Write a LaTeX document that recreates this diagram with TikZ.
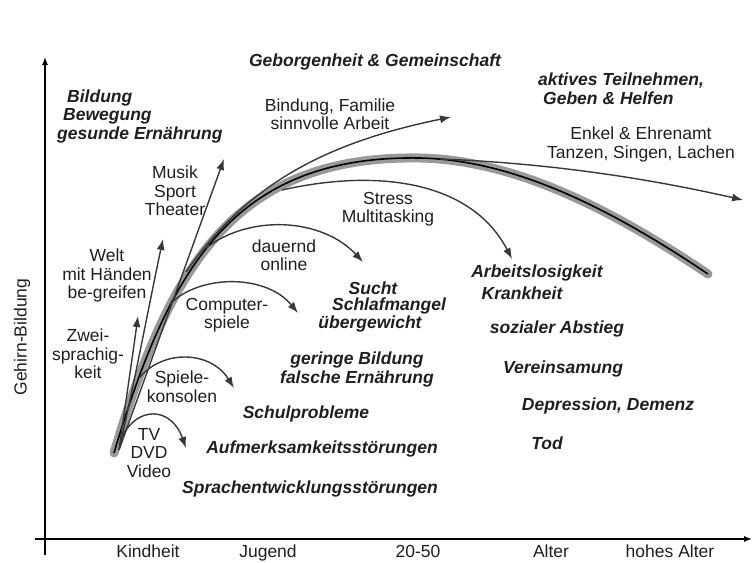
\documentclass[tikz,border=0pt]{standalone}
\usepackage{fontspec}
\setmainfont{Liberation Sans}
\usetikzlibrary{arrows.meta}
\begin{document}
\begin{tikzpicture}[x=1pt,y=-1pt,
  every node/.style={font=\fontsize{17.5}{18.5}\selectfont, text=black!88, inner sep=0pt},
  bi/.style={font=\fontsize{17.5}{18.5}\selectfont\bfseries\itshape},
  arr/.style={draw=black!78, line width=1.4pt, -{Latex[length=11pt,width=8pt]}},
  axis/.style={draw=black, line width=1.2pt, -{Latex[length=8pt,width=6pt]}},
  band/.style={draw=black!40, line width=9pt, line cap=round},
  core/.style={draw=black, line width=1.6pt},
  tick/.style={anchor=base}
]
\useasboundingbox (0,0) rectangle (752,562);

% axes
\coordinate (yb) at (45,555);
\coordinate (yt) at (45,57);
\coordinate (xl) at (35,539);
\coordinate (xr) at (752,539);
\draw[axis] (yb) -- (yt);
\draw[axis] (xl) -- (xr);

\node[rotate=90] (ylab) at (22,337) {Gehirn-Bildung};
\node[tick] (t1) at (148,557) {Kindheit};
\node[tick] (t2) at (268,557) {Jugend};
\node[tick] (t3) at (418,557) {20-50};
\node[tick] (t4) at (551,557) {Alter};
\node[tick] (t5) at (670,557) {hohes Alter};

% main curve
\coordinate (c0) at (114,453);
\coordinate (cp) at (420,158);
\coordinate (c1) at (708,274);
\draw[band] (c0) .. controls (170,265) and (235,155) .. (cp) .. controls (520,160) and (620,215) .. (c1);
\draw[core] (c0) .. controls (170,265) and (235,155) .. (cp) .. controls (520,160) and (620,215) .. (c1);

% start / end coordinates of arrows
\coordinate (s0) at (119,450);
\coordinate (zwE) at (138,316);
\coordinate (weE) at (163,239);
\coordinate (muE) at (224,159);
\coordinate (biS) at (186,272);
\coordinate (biE) at (451,117);
\coordinate (enS) at (440,159);
\coordinate (enE) at (743,200);
\coordinate (stS) at (282,190);
\coordinate (stE) at (512,259);
\coordinate (daS) at (206,248);
\coordinate (daE) at (363,262);
\coordinate (coS) at (170,304);
\coordinate (coE) at (298,313);
\coordinate (spS) at (140,377);
\coordinate (spE) at (234,388);
\coordinate (tvS) at (122,437);
\coordinate (tvE) at (186,448);

\draw[arr] (s0) .. controls (126,400) and (132,360) .. (zwE);
\draw[arr] (s0) .. controls (135,380) and (150,300) .. (weE);
\draw[arr] (s0) -- (muE);
\draw[arr] (biS) .. controls (252,176) and (340,140) .. (biE);
\draw[arr] (enS) .. controls (520,162) and (620,172) .. (enE);
\draw[arr] (stS) .. controls (380,168) and (472,182) .. (stE);
\draw[arr] (daS) .. controls (250,214) and (322,218) .. (daE);
\draw[arr] (coS) .. controls (200,274) and (266,274) .. (coE);
\draw[arr] (spS) .. controls (164,349) and (211,351) .. (spE);
\draw[arr] (tvS) .. controls (137,406) and (171,406) .. (tvE);

% regular labels
\node[align=center] (bin) at (330,114) {Bindung, Familie\\sinnvolle Arbeit};
\node[align=center] (enk) at (641,144.5) {Enkel \& Ehrenamt\\Tanzen, Singen, Lachen};
\node[align=center] (mus) at (175,191) {Musik\\Sport\\Theater};
\node[align=center] (wel) at (107,275.5) {Welt\\mit Händen\\be-greifen};
\node[align=center] (zwe) at (88,354) {Zwei-\\sprachig-\\keit};
\node[align=center] (str) at (388,209) {Stress\\Multitasking};
\node[align=center] (dau) at (284,255) {dauernd\\online};
\node[align=center] (com) at (227,315) {Computer-\\spiele};
\node[align=center] (spk) at (182,386.5) {Spiele-\\konsolen};
\node[align=center] (tvd) at (149,453) {TV\\DVD\\Video};

% bold italic labels
\node[bi,align=left,anchor=west] (bil) at (57,116) {\hspace*{10pt}Bildung\\\hspace*{6pt}Bewegung\\gesunde Ernährung};
\node[bi] (geb) at (375,62) {Geborgenheit \& Gemeinschaft};
\node[bi,align=left,anchor=west] (akt) at (538,88.5) {aktives Teilnehmen,\\\hspace*{5pt}Geben \& Helfen};
\node[bi] (su1) at (373,288) {Sucht};
\node[bi] (su2) at (389,306) {Schlafmangel};
\node[bi] (su3) at (370,324) {übergewicht};
\node[bi,align=center] (ger) at (357,369.5) {geringe Bildung\\falsche Ernährung};
\node[bi] (sch) at (306,414) {Schulprobleme};
\node[bi] (auf) at (322,449) {Aufmerksamkeitsstörungen};
\node[bi] (spr) at (310,489) {Sprachentwicklungsstörungen};
\node[bi] (arb) at (537,273) {Arbeitslosigkeit};
\node[bi] (kra) at (522,293) {Krankheit};
\node[bi] (soz) at (557,329) {sozialer Abstieg};
\node[bi] (ver) at (563,369) {Vereinsamung};
\node[bi] (dep) at (608,406) {Depression, Demenz};
\node[bi] (tod) at (547,443) {Tod};
\end{tikzpicture}
\end{document}
